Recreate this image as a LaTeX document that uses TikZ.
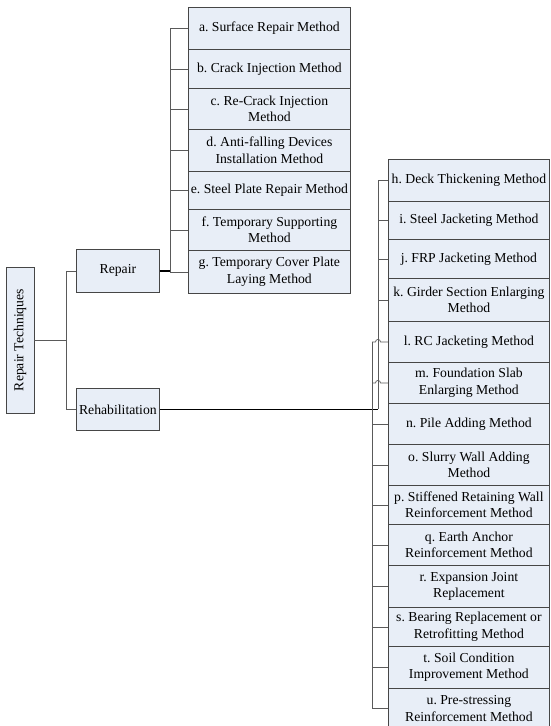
\documentclass[tikz,border=0pt]{standalone}
\usepackage{fontspec}
\setmainfont{Liberation Serif}
\frenchspacing
\definecolor{boxfill}{RGB}{232,238,247}
\definecolor{boxline}{RGB}{70,70,70}
\definecolor{tickline}{RGB}{90,90,90}

\begin{document}
\begin{tikzpicture}[x=1pt,y=-1pt,
    method/.style={draw=boxline,fill=boxfill,line width=0.8pt,anchor=north west,
        align=center,inner xsep=1pt,inner ysep=1pt,font=\fontsize{13.7}{16.5}\selectfont},
    repitem/.style={method,minimum width=162},
    rehitem/.style={method,minimum width=161},
    tick/.style={draw=tickline,line width=0.7pt},
    trunk/.style={draw=black,line width=1.3pt}]
    \useasboundingbox(0,0)rectangle(551,726);
    % main boxes
    \node[method,rotate=90,anchor=center,minimum width=146,minimum height=28](tech)at(20,340){Repair Techniques};
    \node[method,minimum width=83,minimum height=43](repair)at(76,249){Repair};
    \node[method,minimum width=83,minimum height=42](rehab)at(76,388){Rehabilitation};
    % repair methods
    \node[repitem,minimum height=42](ma)at(188,7){a. Surface Repair Method};
    \node[repitem,minimum height=39](mb)at(188,49){b. Crack Injection Method};
    \node[repitem,minimum height=41](mc)at(188,88){c. Re-Crack Injection\\Method};
    \node[repitem,minimum height=42](md)at(188,129){d. Anti-falling Devices\\Installation Method};
    \node[repitem,minimum height=38](me)at(188,171){e. Steel Plate Repair Method};
    \node[repitem,minimum height=41](mf)at(188,209){f. Temporary Supporting\\Method};
    \node[repitem,minimum height=43](mg)at(188,250){g. Temporary Cover Plate\\Laying Method};
    % rehabilitation methods
    \node[rehitem,minimum height=42](mh)at(388,159){h. Deck Thickening Method};
    \node[rehitem,minimum height=38](mi)at(388,201){i. Steel Jacketing Method};
    \node[rehitem,minimum height=39](mj)at(388,239){j. FRP Jacketing Method};
    \node[rehitem,minimum height=43](mk)at(388,278){k. Girder Section Enlarging\\Method};
    \node[rehitem,minimum height=41](ml)at(388,321){l. RC Jacketing Method};
    \node[rehitem,minimum height=41](mm)at(388,362){m. Foundation Slab\\Enlarging Method};
    \node[rehitem,minimum height=41](mn)at(388,403){n. Pile Adding Method};
    \node[rehitem,minimum height=41](mo)at(388,444){o. Slurry Wall Adding\\Method};
    \node[rehitem,minimum height=39](mp)at(388,485){p. Stiffened Retaining Wall\\Reinforcement Method};
    \node[rehitem,minimum height=41](mq)at(388,524){q. Earth Anchor\\Reinforcement Method};
    \node[rehitem,minimum height=42](mr)at(388,565){r. Expansion Joint\\Replacement};
    \node[rehitem,minimum height=39](ms)at(388,607){s. Bearing Replacement or\\Retrofitting Method};
    \node[rehitem,minimum height=42](mt)at(388,646){t. Soil Condition\\Improvement Method};
    \node[rehitem,minimum height=40](mu)at(388,688){u. Pre-stressing\\Reinforcement Method};
    % buses
    \coordinate(busL)at(66,0);
    \coordinate(busR)at(170,0);
    \coordinate(busA)at(378,0);
    \coordinate(busB)at(372,0);
    % left level
    \draw[tick](tech.south)--(busL|-tech.south);
    \draw[tick](busL|-repair.west)--(busL|-rehab.west);
    \draw[tick](busL|-repair.west)--(repair.west);
    \draw[tick](busL|-rehab.west)--(rehab.west);
    % repair branch
    \draw[trunk](repair.east)--(busR|-repair.east);
    \draw[tick](busR|-ma.west)--(busR|-mg.west);
    \foreach \m in {ma,mb,mc,md,me,mf,mg}
        \draw[tick](busR|-\m.west)--(\m.west);
    % rehabilitation branch
    \draw[trunk](rehab.east)--(busA|-rehab.east);
    \draw[tick](busA|-mh.west)--(busA|-rehab.east);
    \draw[tick](busB|-ml.west)--(busB|-mu.west);
    \foreach \m in {mh,mi,mj,mk}
        \draw[tick](busA|-\m.west)--(\m.west);
    \foreach \m in {ml,mm}
        \draw[tick](busB|-\m.west)--++(3.5,0)arc[start angle=180,end angle=360,radius=2.5]--(\m.west);
    \foreach \m in {mn,mo,mp,mq,mr,ms,mt,mu}
        \draw[tick](busB|-\m.west)--(\m.west);
\end{tikzpicture}
\end{document}
